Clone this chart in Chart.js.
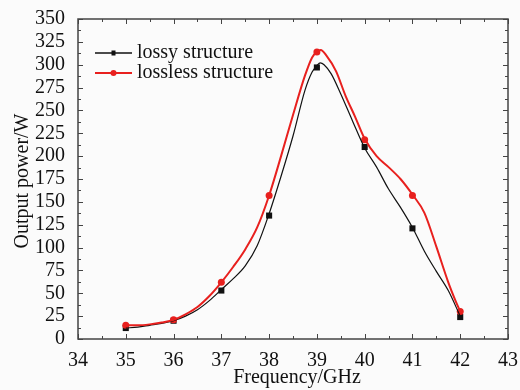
<!DOCTYPE html>
<html>
<head>
<meta charset="utf-8">
<script src="https://cdn.jsdelivr.net/npm/chart.js@4"></script>
<style>
  html, body { margin: 0; padding: 0; background: #fbfbfb; }
  #wrap { width: 520px; height: 390px; }
</style>
</head>
<body>
<div id="wrap"><canvas id="chart" width="520" height="390"></canvas></div>
<script>
// ---- data ----
const markerFreq = [35, 36, 37, 38, 39, 40, 41, 42];
const lossyMarkers = [12, 20, 53, 135, 297, 210, 121, 24];
const losslessMarkers = [15, 21, 62, 157, 314, 218, 157, 30];

// dense simulated curves
const lossyFreq = [35, 35.25, 35.5, 35.75, 36, 36.25, 36.5, 36.75, 37, 37.25, 37.5, 37.75, 38, 38.25, 38.5, 38.75, 38.9, 39, 39.07, 39.15, 39.3, 39.5, 39.75, 40, 40.25, 40.5, 40.75, 41, 41.25, 41.5, 41.75, 42];
const lossyPower = [12, 13, 15, 17, 20, 25, 32, 42, 54, 66, 80, 102, 137, 178, 222, 272, 292, 299, 302, 300, 290, 268, 238, 209, 188, 164, 144, 122, 96, 74, 53, 25];
const losslessFreq = [35, 35.25, 35.5, 35.75, 36, 36.25, 36.5, 36.75, 37, 37.25, 37.5, 37.75, 38, 38.25, 38.5, 38.75, 38.9, 39, 39.08, 39.2, 39.4, 39.6, 39.8, 40, 40.25, 40.5, 40.75, 41, 41.25, 41.5, 41.75, 41.9, 42];
const losslessPower = [15, 15, 16, 18, 21, 27, 35, 47, 62, 79, 98, 122, 157, 200, 245, 288, 308, 314, 316, 310, 293, 266, 243, 219, 200, 188, 175, 158, 138, 101, 62, 42, 30];

const xTicks = { min: 34, max: 43, step: 1, minor: 0.5 };
const yTicks = { min: 0, max: 350, step: 25, minor: 12.5 };

const FONT = "'Liberation Serif', 'Times New Roman', serif";
const BLACK = '#111';
const RED = '#e8201e';

const pts = (xs, ys) => xs.map((x, i) => ({ x, y: ys[i] }));

/* frame, inward ticks, axis titles and legend */
const decor = {
  id: 'decor',
  afterDraw(chart) {
    const { ctx, chartArea: a, scales } = chart;
    const xs = scales.x, ys = scales.y;
    ctx.save();
    ctx.strokeStyle = '#444';
    ctx.lineWidth = 1.5;
    ctx.strokeRect(a.left, a.top, a.right - a.left, a.bottom - a.top);

    ctx.lineWidth = 1;
    ctx.beginPath();
    for (let v = xTicks.min; v <= xTicks.max + 1e-9; v += xTicks.minor) {
      const px = Math.round(xs.getPixelForValue(v)) + 0.5;
      const len = Math.abs(v - Math.round(v)) < 1e-9 ? 5 : 3;
      ctx.moveTo(px, a.bottom); ctx.lineTo(px, a.bottom - len);
      ctx.moveTo(px, a.top); ctx.lineTo(px, a.top + len);
    }
    for (let v = yTicks.min; v <= yTicks.max + 1e-9; v += yTicks.minor) {
      const py = Math.round(ys.getPixelForValue(v)) + 0.5;
      const len = (v % yTicks.step) === 0 ? 5 : 3;
      ctx.moveTo(a.left, py); ctx.lineTo(a.left + len, py);
      ctx.moveTo(a.right, py); ctx.lineTo(a.right - len, py);
    }
    ctx.stroke();

    // axis titles
    ctx.fillStyle = BLACK;
    ctx.font = '20px ' + FONT;
    ctx.textAlign = 'center';
    ctx.textBaseline = 'middle';
    ctx.fillText('Frequency/GHz', (a.left + a.right) / 2 + 4, 378);
    ctx.save();
    ctx.translate(23, (a.top + a.bottom) / 2 + 2);
    ctx.rotate(-Math.PI / 2);
    ctx.fillText('Output power/W', 0, 0);
    ctx.restore();

    // legend
    const items = [
      { label: 'lossy structure', color: BLACK, width: 1.3, y: 53, square: true },
      { label: 'lossless structure', color: RED, width: 2, y: 73, square: false }
    ];
    ctx.textAlign = 'left';
    ctx.font = '20px ' + FONT;
    items.forEach(it => {
      ctx.strokeStyle = it.color;
      ctx.lineWidth = it.width;
      ctx.beginPath();
      ctx.moveTo(95, it.y); ctx.lineTo(132, it.y);
      ctx.stroke();
      ctx.fillStyle = it.color;
      if (it.square) {
        ctx.fillRect(111.5, it.y - 2.5, 4, 5);
      } else {
        ctx.beginPath(); ctx.arc(113.5, it.y, 3, 0, Math.PI * 2); ctx.fill();
      }
      ctx.fillStyle = BLACK;
      ctx.fillText(it.label, 137, it.y);
    });
    ctx.restore();
  }
};

new Chart(document.getElementById('chart'), {
  type: 'scatter',
  data: {
    datasets: [
      { label: 'lossless curve', data: pts(losslessFreq, losslessPower), showLine: true,
        borderColor: RED, borderWidth: 2, pointRadius: 0, cubicInterpolationMode: 'monotone' },
      { label: 'lossy curve', data: pts(lossyFreq, lossyPower), showLine: true,
        borderColor: BLACK, borderWidth: 1.2, pointRadius: 0, cubicInterpolationMode: 'monotone' },
      { label: 'lossless structure', data: pts(markerFreq, losslessMarkers), showLine: false,
        pointStyle: 'circle', pointRadius: 3.5, backgroundColor: RED, borderColor: RED, borderWidth: 0 },
      { label: 'lossy structure', data: pts(markerFreq, lossyMarkers), showLine: false,
        pointStyle: 'rect', pointRadius: 4.3, backgroundColor: BLACK, borderColor: BLACK, borderWidth: 0 }
    ]
  },
  options: {
    responsive: false,
    animation: false,
    layout: { padding: { left: 0, top: 19, right: 12, bottom: 0 } },
    plugins: { legend: { display: false }, tooltip: { enabled: false } },
    scales: {
      x: {
        type: 'linear', min: xTicks.min, max: xTicks.max,
        grid: { display: false }, border: { display: false },
        ticks: { stepSize: xTicks.step, autoSkip: false, maxRotation: 0, padding: 2, color: BLACK, font: { family: FONT, size: 20 } },
        afterFit(scale) { scale.height = 51; }
      },
      y: {
        min: yTicks.min, max: yTicks.max,
        grid: { display: false }, border: { display: false },
        ticks: { stepSize: yTicks.step, autoSkip: false, padding: 5, color: BLACK, font: { family: FONT, size: 20 } },
        afterFit(scale) { scale.width = 78; }
      }
    }
  },
  plugins: [decor]
});
</script>
</body>
</html>
